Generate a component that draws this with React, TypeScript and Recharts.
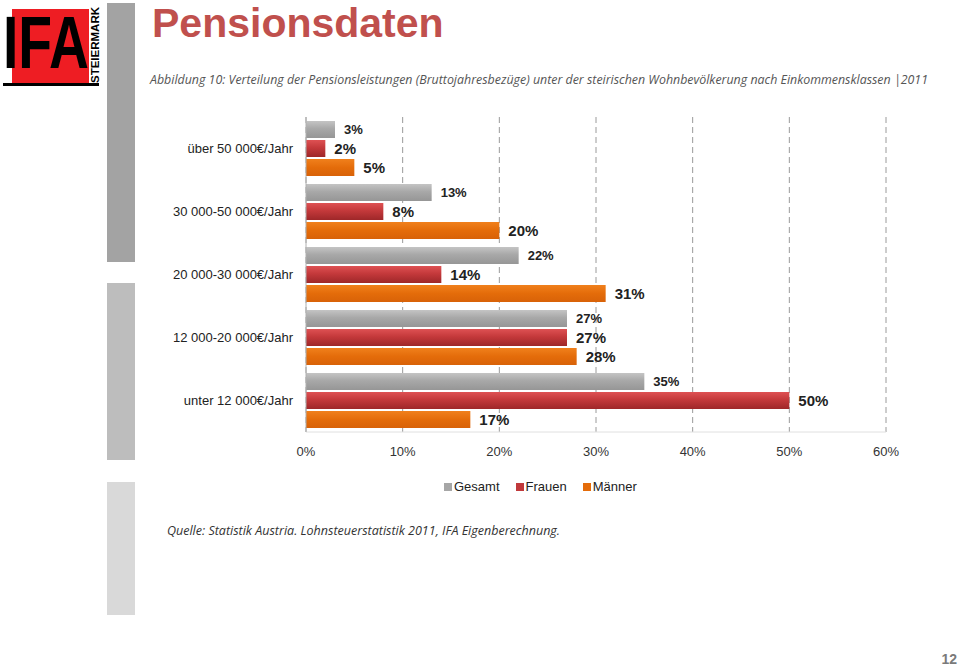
import { BarChart, Bar, XAxis, YAxis, CartesianGrid, LabelList, Legend } from "recharts";

// income classes, top to bottom
const categories = [
  "über 50 000€/Jahr",
  "30 000-50 000€/Jahr",
  "20 000-30 000€/Jahr",
  "12 000-20 000€/Jahr",
  "unter 12 000€/Jahr",
];

// shares in percent
const gesamt = [3, 13, 22, 27, 35];
const frauen = [2, 8, 14, 27, 50];
const maenner = [5, 20, 31, 28, 17];

const xTicks = [0, 10, 20, 30, 40, 50, 60];

const seriesNames = ["Gesamt", "Frauen", "Männer"];
const seriesColors = ["#a6a6a6", "#c0393b", "#e46c0a"];

const FONT = "'Liberation Sans', Arial, sans-serif";

const data = categories.map((c, i) => ({
  name: c,
  gesamt: gesamt[i],
  frauen: frauen[i],
  maenner: maenner[i],
}));

function LegendContent() {
  return (
    <div style={{ display: "flex", alignItems: "center", fontFamily: FONT, fontSize: 13, color: "#222" }}>
      {seriesNames.map((n, i) => (
        <div key={n} style={{ display: "flex", alignItems: "center", marginRight: 16 }}>
          <span style={{ width: 8, height: 8, background: seriesColors[i], display: "inline-block", marginRight: 2 }} />
          <span>{n}</span>
        </div>
      ))}
    </div>
  );
}

function Header() {
  return (
    <svg width={960} height={668} style={{ position: "absolute", left: 0, top: 0 }}>
      {/* decorative side bars */}
      <rect x={107} y={3} width={28} height={259} fill="#a3a3a3" />
      <rect x={107} y={283} width={28} height={177} fill="#bdbdbd" />
      <rect x={107} y={482} width={28} height={133} fill="#d9d9d9" />

      {/* logo */}
      <rect x={12} y={9} width={77} height={74} fill="#ee1d23" />
      <text x={3} y={68} fontFamily={FONT} fontWeight="bold" fontSize={75} fill="#000"
        textLength={86} lengthAdjust="spacingAndGlyphs">IFA</text>
      <rect x={3} y={83} width={96} height={3} fill="#000" />
      <text transform="translate(99,83) rotate(-90)" fontFamily={FONT} fontWeight="bold" fontSize={11}
        fill="#000" textLength={76} lengthAdjust="spacingAndGlyphs">STEIERMARK</text>

      {/* title and caption */}
      <text x={152} y={37} fontFamily={FONT} fontWeight="bold" fontSize={41} fill="#c0504d">Pensionsdaten</text>
      <text x={150} y={84} fontFamily="'Open Sans', sans-serif" fontStyle="italic" fontSize={12.5} fill="#555"
        textLength={778} lengthAdjust="spacingAndGlyphs">
        Abbildung 10: Verteilung der Pensionsleistungen (Bruttojahresbezüge) unter der steirischen Wohnbevölkerung nach Einkommensklassen |2011
      </text>

      <text x={167} y={535} fontFamily="'Open Sans', sans-serif" fontStyle="italic" fontSize={12} fill="#333"
        textLength={393} lengthAdjust="spacingAndGlyphs">
        Quelle: Statistik Austria. Lohnsteuerstatistik 2011, IFA Eigenberechnung.
      </text>

      <text x={957} y={664} textAnchor="end" fontFamily={FONT} fontWeight="bold" fontSize={14} fill="#7a7a7a">12</text>
    </svg>
  );
}

export default function App() {
  return (
    <div style={{ position: "absolute", left: 0, top: 0, width: 960, height: 668, background: "#fff", overflow: "hidden" }}>
      <Header />
      <div style={{ position: "absolute", left: 0, top: 0 }}>
        <BarChart
          width={960}
          height={668}
          data={data}
          layout="vertical"
          margin={{ top: 117, right: 74, bottom: 206, left: 0 }}
          barSize={17}
          barGap={2}
        >
          <defs>
            <linearGradient id="gGray" x1="0" y1="0" x2="0" y2="1">
              <stop offset="0%" stopColor="#c4c4c4" />
              <stop offset="45%" stopColor="#a8a8a8" />
              <stop offset="100%" stopColor="#969696" />
            </linearGradient>
            <linearGradient id="gRed" x1="0" y1="0" x2="0" y2="1">
              <stop offset="0%" stopColor="#de5153" />
              <stop offset="45%" stopColor="#c4393b" />
              <stop offset="100%" stopColor="#9e2729" />
            </linearGradient>
            <linearGradient id="gOrange" x1="0" y1="0" x2="0" y2="1">
              <stop offset="0%" stopColor="#f0801c" />
              <stop offset="50%" stopColor="#e46c0a" />
              <stop offset="100%" stopColor="#d86208" />
            </linearGradient>
          </defs>
          <CartesianGrid horizontal={false} stroke="#9a9a9a" strokeDasharray="6 4" />
          <XAxis
            type="number"
            domain={[0, 60]}
            ticks={xTicks}
            tickFormatter={(v) => `${v}%`}
            tickLine={false}
            tickSize={0}
            tickMargin={15}
            axisLine={{ stroke: "#e0e0e0" }}
            tick={{ fontFamily: FONT, fontSize: 13, fill: "#333" }}
            height={30}
          />
          <YAxis
            type="category"
            dataKey="name"
            width={306}
            tickLine={false}
            tickSize={0}
            tickMargin={13}
            axisLine={{ stroke: "#b0b0b0" }}
            tick={{ fontFamily: FONT, fontSize: 13, fill: "#222" }}
          />
          <Legend
            layout="horizontal"
            verticalAlign="middle"
            align="center"
            content={LegendContent}
            wrapperStyle={{ left: 444, top: 479, width: "auto" }}
          />
          <Bar dataKey="gesamt" name="Gesamt" fill="url(#gGray)" isAnimationActive={false}>
            <LabelList dataKey="gesamt" position="right" offset={9} formatter={(v: number) => `${v}%`}
              style={{ fontFamily: FONT, fontSize: 13, fontWeight: "bold", fill: "#222" }} />
          </Bar>
          <Bar dataKey="frauen" name="Frauen" fill="url(#gRed)" isAnimationActive={false}>
            <LabelList dataKey="frauen" position="right" offset={9} formatter={(v: number) => `${v}%`}
              style={{ fontFamily: FONT, fontSize: 15, fontWeight: "bold", fill: "#222" }} />
          </Bar>
          <Bar dataKey="maenner" name="Männer" fill="url(#gOrange)" isAnimationActive={false}>
            <LabelList dataKey="maenner" position="right" offset={9} formatter={(v: number) => `${v}%`}
              style={{ fontFamily: FONT, fontSize: 15, fontWeight: "bold", fill: "#222" }} />
          </Bar>
        </BarChart>
      </div>
    </div>
  );
}
